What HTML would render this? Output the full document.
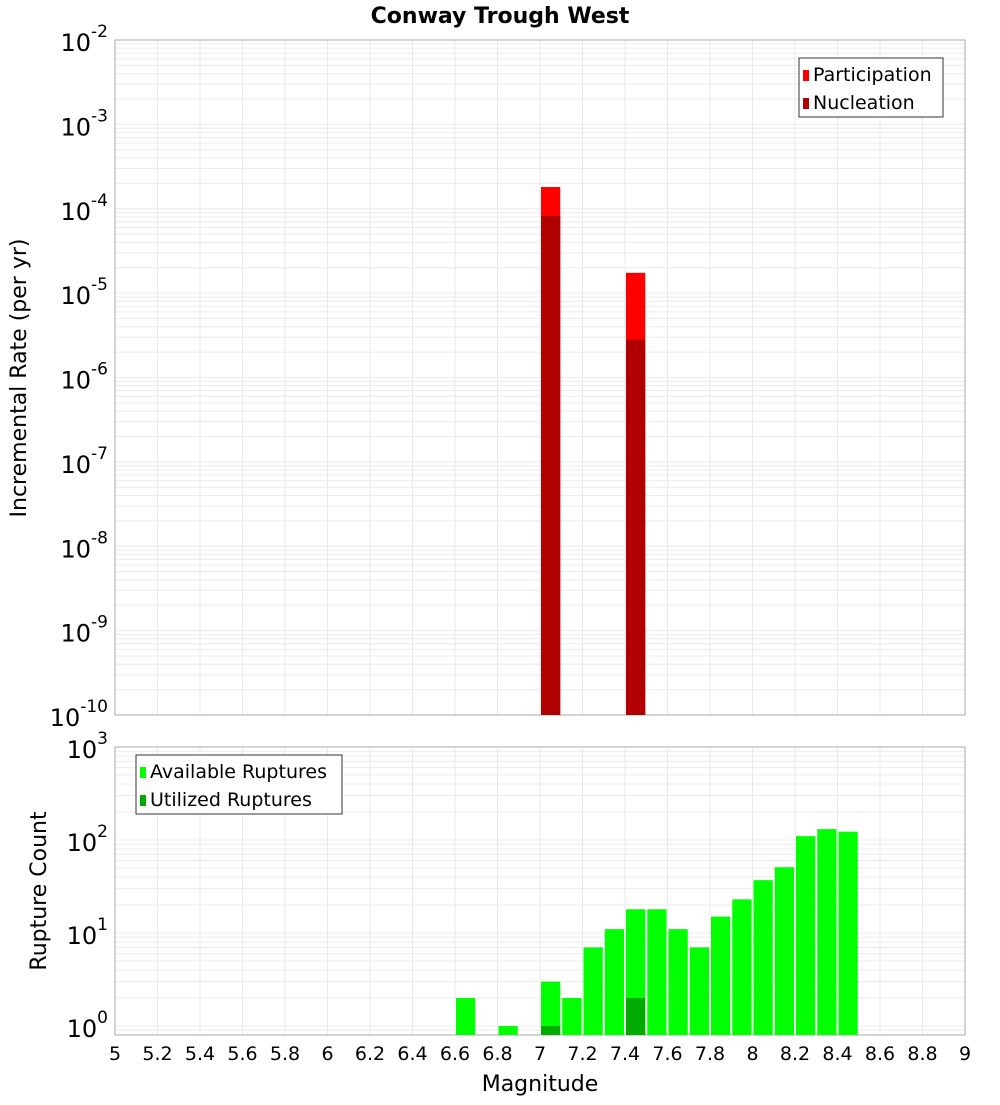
<!DOCTYPE html>
<html><head><meta charset="utf-8"><style>
body{margin:0;background:#fff;font-family:"Liberation Sans","DejaVu Sans",sans-serif}
svg text{font-family:"DejaVu Sans","Liberation Sans",sans-serif}
</style></head><body>
<svg id="c" width="1000" height="1100" xmlns="http://www.w3.org/2000/svg"></svg>
<script>
const magBins=[7.05,7.45];
const participation=[1.81e-4,1.74e-5];
const nucleation=[8.2e-5,2.8e-6];
const ruptMags=[6.65,6.85,7.05,7.15,7.25,7.35,7.45,7.55,7.65,7.75,7.85,7.95,8.05,8.15,8.25,8.35,8.45];
const available=[2,1,3,2,7,11,18,18,11,7,15,23,37,51,110,131,123];
const utilMags=[7.05,7.45];
const utilized=[1,2];
const xTicks=[5,5.2,5.4,5.6,5.8,6,6.2,6.4,6.6,6.8,7,7.2,7.4,7.6,7.8,8,8.2,8.4,8.6,8.8,9];
const topExps=[-10,-9,-8,-7,-6,-5,-4,-3,-2];
const botExps=[0,1,2,3];

const NS="http://www.w3.org/2000/svg";
const svg=document.getElementById('c');
function el(t,a,p){const e=document.createElementNS(NS,t);for(const k in a)e.setAttribute(k,a[k]);(p||svg).appendChild(e);return e;}
const X0=115,X1=965;
const x=m=>X0+(m-5)/4*(X1-X0);
const T0=40,T1=715;
const yT=v=>T1-(Math.log10(v)+10)/8*(T1-T0);
const B0=747,B1=1035,BD=93;
const yB=v=>(B0+3*BD)-Math.log10(v)*BD;

function plotFrame(top,bot,yf,lo,hi,name){
  const g=el('g',{});
  
  
  for(let e=lo;e<hi;e++)for(let k=1;k<10;k++){
    const y=yf(k*Math.pow(10,e));
    if(y>=top&&y<=bot)el('line',{x1:X0,x2:X1,y1:y,y2:y,stroke:'#ececec','stroke-width':1},g);
  }
  xTicks.forEach(t=>{el('line',{x1:x(t),x2:x(t),y1:top,y2:bot,stroke:'#e8e8e8','stroke-width':1},g);});
  el('rect',{x:X0,y:top,width:X1-X0,height:bot-top,fill:'none',stroke:'#a8a8a8'},g);
  return g;
}
plotFrame(T0,T1,yT,-10,-2,'top-plot-area');
plotFrame(B0,B1,yB,-1,3,'bottom-plot-area');

function bar(m,v,yf,base,fill,name){
  const r=el('rect',{x:x(m-0.05)+1,y:yf(v),width:x(m+0.05)-x(m-0.05)-2,height:base-yf(v),fill:fill});
  
  
}
magBins.forEach((m,i)=>bar(m,participation[i],yT,T1,'#ff0000','participation-bar'));
magBins.forEach((m,i)=>bar(m,nucleation[i],yT,T1,'#b00000','nucleation-bar'));
ruptMags.forEach((m,i)=>bar(m,available[i],yB,B1,'#00ff00','available-bar'));
utilMags.forEach((m,i)=>bar(m,utilized[i],yB,B1,'#00aa00','utilized-bar'));

function txt(s,a,name){const t=el('text',a);t.textContent=s;return t;}
function pow(y,e,name){
  const t=el('text',{x:108,y:y+11,'text-anchor':'end','font-size':24,fill:'#000'});
  
  const a=document.createElementNS(NS,'tspan');a.textContent='10';t.appendChild(a);
  const b=document.createElementNS(NS,'tspan');b.setAttribute('dy',-14);b.setAttribute('font-size',17);b.textContent=String(e);t.appendChild(b);
}
topExps.forEach(e=>pow(yT(Math.pow(10,e)),e,'y-tick-label'));
botExps.forEach(e=>pow(yB(Math.pow(10,e)),e,'y-tick-label'));
xTicks.forEach(t=>txt(String(t),{x:x(t),y:1060,'text-anchor':'middle','font-size':19},'x-tick-label'));

txt('Conway Trough West',{x:500,y:23,'text-anchor':'middle','font-size':22,'font-weight':'bold'},'chart-title');
txt('Magnitude',{x:540,y:1091,'text-anchor':'middle','font-size':22},'x-axis-title');
txt('Incremental Rate (per yr)',{x:0,y:0,'text-anchor':'middle','font-size':22,transform:'translate(26,378) rotate(-90)'},'y-axis-title-top');
txt('Rupture Count',{x:0,y:0,'text-anchor':'middle','font-size':22,transform:'translate(46,891) rotate(-90)'},'y-axis-title-bottom');

function legend(lx,ly,w,items,name){
  const g=el('g',{});
  el('rect',{x:lx,y:ly,width:w,height:59,fill:'#fff',stroke:'#333'},g);
  items.forEach((it,i)=>{
    el('rect',{x:lx+4,y:ly+12+i*28,width:6,height:11,fill:it[1]},g);
    const t=el('text',{x:lx+14,y:ly+23+i*28,'font-size':19},g);t.textContent=it[0];
  });
}
legend(799,58,144,[['Participation','#ff0000'],['Nucleation','#b00000']],'legend-top');
legend(136,755,206,[['Available Ruptures','#00ff00'],['Utilized Ruptures','#00aa00']],'legend-bottom');
</script>
</body></html>
